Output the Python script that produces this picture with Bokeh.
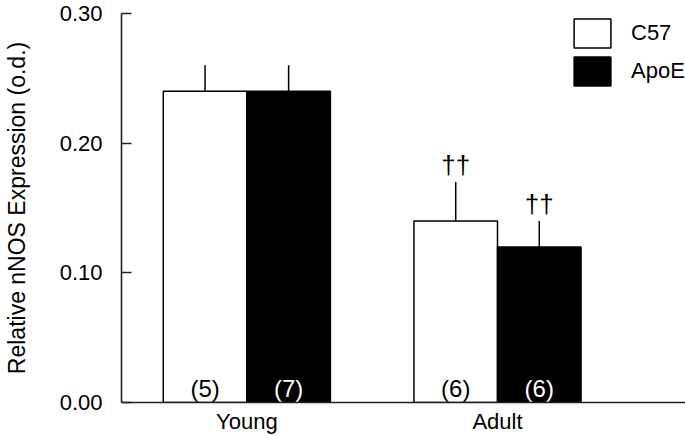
from bokeh.plotting import figure
from bokeh.models import Range1d, ColumnDataSource, Legend, LegendItem, FixedTicker
from bokeh.core.properties import value
from bokeh.embed import file_html
from bokeh.resources import INLINE

# ---- data ----
groups = ["Young", "Adult"]
strains = ["C57", "ApoE"]
c57_mean = [0.24, 0.14]
apoe_mean = [0.24, 0.12]
c57_err = [0.02, 0.03]
apoe_err = [0.02, 0.02]
c57_n = ["(5)", "(6)"]
apoe_n = ["(7)", "(6)"]
c57_sig = ["", "\u2020\u2020"]
apoe_sig = ["", "\u2020\u2020"]
y_ticks = [0.0, 0.1, 0.2, 0.3]
y_tick_labels = ["0.00", "0.10", "0.20", "0.30"]
y_title = "Relative nNOS Expression (o.d.)"

FONT = "Liberation Sans"
group_pos = [i + 1 for i in range(len(groups))]
bar_w = 1 / 3
x_c57 = [g - bar_w / 2 for g in group_pos]
x_apoe = [g + bar_w / 2 for g in group_pos]

src_c57 = ColumnDataSource(dict(x=x_c57, top=c57_mean,
                                etop=[m + e for m, e in zip(c57_mean, c57_err)],
                                n=c57_n, sig=c57_sig))
src_apoe = ColumnDataSource(dict(x=x_apoe, top=apoe_mean,
                                 etop=[m + e for m, e in zip(apoe_mean, apoe_err)],
                                 n=apoe_n, sig=apoe_sig))

p = figure(width=685, height=436, output_backend="svg", toolbar_location=None,
           x_range=Range1d(0.5, 2.75), y_range=Range1d(0, 0.3),
           min_border_left=117, min_border_right=0, min_border_top=13,
           min_border_bottom=34)
p.outline_line_color = None
p.xgrid.grid_line_color = None
p.ygrid.grid_line_color = None
p.background_fill_color = "white"

# error bars (upper only)
for src in (src_c57, src_apoe):
    p.segment(x0="x", y0="top", x1="x", y1="etop", source=src,
              line_color="black", line_width=1.5)

r_c57 = p.vbar(x="x", top="top", bottom=0, width=bar_w, source=src_c57,
               fill_color="white", line_color="black", line_width=1.5)
r_apoe = p.vbar(x="x", top="top", bottom=0, width=bar_w, source=src_apoe,
                fill_color="black", line_color="black", line_width=1.5)

# n labels inside bars
p.text(x="x", y=0, text="n", source=src_c57, text_align="center",
       text_baseline="bottom", y_offset=-1, text_color="black",
       text_font=value(FONT), text_font_size="24px")
p.text(x="x", y=0, text="n", source=src_apoe, text_align="center",
       text_baseline="bottom", y_offset=-1, text_color="white",
       text_font=value(FONT), text_font_size="24px")

# significance daggers
for src in (src_c57, src_apoe):
    p.text(x="x", y="etop", text="sig", source=src, text_align="center",
           text_baseline="bottom", y_offset=-2, text_color="black",
           text_font=value(FONT), text_font_size="26px")

# axes
ya = p.yaxis[0]
ya.ticker = FixedTicker(ticks=y_ticks)
ya.major_label_overrides = {t: l for t, l in zip(y_ticks, y_tick_labels)}
ya.major_tick_in = 10
ya.major_tick_out = 0
ya.minor_tick_in = 0
ya.minor_tick_out = 0
ya.major_label_standoff = 19
ya.axis_label = y_title
ya.axis_label_standoff = 27
ya.axis_label_text_font = FONT
ya.axis_label_text_font_size = "23px"
ya.axis_label_text_font_style = "normal"
ya.axis_label_text_color = "black"
ya.major_label_text_font = FONT
ya.major_label_text_font_size = "22px"
ya.major_label_text_color = "black"
ya.axis_line_color = "#222222"
ya.axis_line_width = 1.6
ya.major_tick_line_color = "#222222"
ya.major_tick_line_width = 1.6

xa = p.xaxis[0]
xa.ticker = FixedTicker(ticks=group_pos)
xa.major_label_overrides = {g: name for g, name in zip(group_pos, groups)}
xa.major_tick_in = 0
xa.major_tick_out = 0
xa.minor_tick_in = 0
xa.minor_tick_out = 0
xa.major_label_standoff = 6
xa.major_label_text_font = FONT
xa.major_label_text_font_size = "22px"
xa.major_label_text_color = "black"
xa.axis_line_color = "#222222"
xa.axis_line_width = 1.6

legend = Legend(items=[LegendItem(label=strains[0], renderers=[r_c57]),
                       LegendItem(label=strains[1], renderers=[r_apoe])],
                location=(448, 313), glyph_width=46, glyph_height=36,
                label_height=36, spacing=2, padding=0, margin=0,
                label_standoff=16, label_text_font=FONT,
                label_text_font_size="22px", label_text_color="black",
                border_line_alpha=0, background_fill_alpha=0)
p.add_layout(legend)

open("out.html", "w").write(file_html(p, INLINE))
